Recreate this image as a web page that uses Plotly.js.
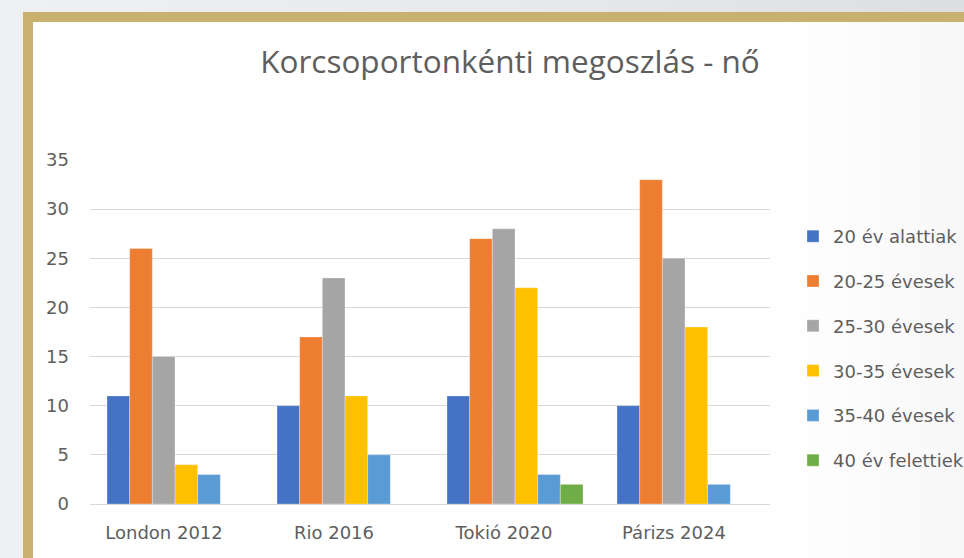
<!DOCTYPE html>
<html>
<head>
<meta charset="utf-8">
<script src="https://cdn.plot.ly/plotly-3.0.1.min.js"></script>
<style>
  html, body { margin: 0; padding: 0; width: 964px; height: 558px; overflow: hidden;
    background: linear-gradient(90deg, #eef0f2 0%, #e6e8eb 60%, #dcdee1 100%); }
  #frame { position: absolute; left: 23px; top: 12px; width: 960px; height: 536px;
    border: 10px solid #c8b06e; background: linear-gradient(90deg, #ffffff 0%, #ffffff 78%, #f6f6f6 100%); }
  #chart { position: absolute; left: 0; top: 0; width: 964px; height: 558px; }
</style>
</head>
<body>
<div id="frame"></div>
<div id="chart"></div>
<script>
const categories = ["London 2012", "Rio 2016", "Tokió 2020", "Párizs 2024"];
const seriesNames = ["20 év alattiak", "20-25 évesek", "25-30 évesek", "30-35 évesek", "35-40 évesek", "40 év felettiek"];
const under20   = [11, 10, 11, 10];
const age20_25  = [26, 17, 27, 33];
const age25_30  = [15, 23, 28, 25];
const age30_35  = [4, 11, 22, 18];
const age35_40  = [3, 5, 3, 2];
const over40    = [null, null, 2, null];
const yTicks = [0, 5, 10, 15, 20, 25, 30, 35];
const chartTitle = "Korcsoportonkénti megoszlás - nő";

const colors = ["#4472C4", "#ED7D31", "#A5A5A5", "#FFC000", "#5B9BD5", "#70AD47"];
const seriesValues = [under20, age20_25, age25_30, age30_35, age35_40, over40];
const FONT = "DejaVu Sans, sans-serif";
const TITLE_FONT = "Open Sans, Noto Sans, sans-serif";

const traces = seriesValues.map((vals, i) => ({
  type: "bar",
  name: seriesNames[i],
  x: categories,
  y: vals,
  legendgroup: "g" + i,
  marker: { color: colors[i], line: { color: "rgba(255,255,255,0.6)", width: 0.5 } },
  hoverinfo: "x+y+name"
}));

const layout = {
  width: 964, height: 558,
  paper_bgcolor: "rgba(0,0,0,0)",
  plot_bgcolor: "rgba(0,0,0,0)",
  margin: { l: 90, r: 194, t: 160, b: 54 },
  barmode: "group",
  bargap: 0.2,
  bargroupgap: 0,
  font: { family: FONT, color: "#5e5e5e", size: 17 },
  title: {
    text: chartTitle,
    xref: "container", yref: "container",
    x: 510 / 964, xanchor: "center",
    y: 1 - 62 / 558, yanchor: "middle",
    font: { family: TITLE_FONT, size: 31.5, color: "#5e5e5e" }
  },
  xaxis: {
    type: "category",
    showgrid: false,
    showline: true, linecolor: "#d9d9d9", linewidth: 1,
    ticks: "", ticklabelshift: -11, ticklabelstandoff: 12,
    tickfont: { family: FONT, size: 18, color: "#5e5e5e" },
    fixedrange: true
  },
  yaxis: {
    range: [0, 35],
    tickvals: yTicks,
    ticktext: yTicks.map(String),
    showgrid: true, gridcolor: "#d9d9d9", gridwidth: 1,
    zeroline: false, showline: false,
    ticks: "", ticklabelstandoff: 20,
    tickfont: { family: FONT, size: 18, color: "#5e5e5e" },
    fixedrange: true
  },
  legend: {
    xref: "container", yref: "container",
    x: 793 / 964, xanchor: "left",
    y: 1 - 218 / 558, yanchor: "top",
    traceorder: "grouped",
    tracegroupgap: 18.4,
    font: { family: FONT, size: 18, color: "#5e5e5e" },
    bgcolor: "rgba(0,0,0,0)",
    itemclick: false, itemdoubleclick: false
  },
  showlegend: true
};

Plotly.newPlot("chart", traces, layout, { displayModeBar: false, staticPlot: true });
</script>
</body>
</html>
